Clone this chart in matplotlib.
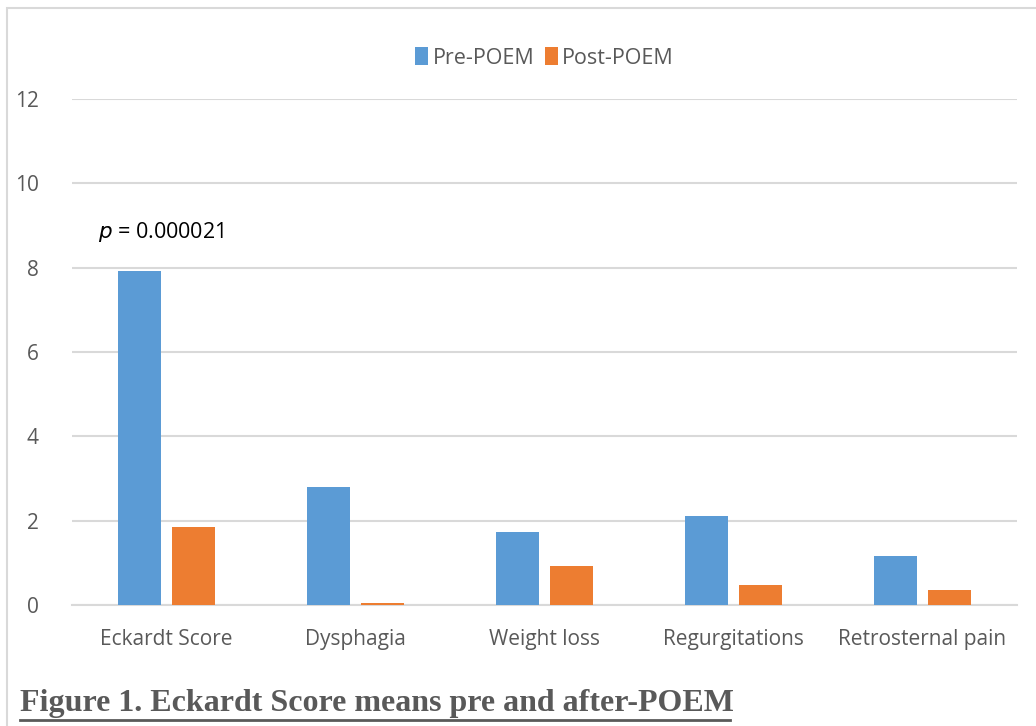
import numpy as np
import matplotlib
matplotlib.use('Agg')
from matplotlib import pyplot as plt
from matplotlib.patches import Rectangle

categories = ['Eckardt Score', 'Dysphagia', 'Weight loss', 'Regurgitations', 'Retrosternal pain']
pre_poem = [7.92, 2.80, 1.72, 2.12, 1.16]
post_poem = [1.86, 0.05, 0.93, 0.47, 0.36]
y_ticks = [0, 2, 4, 6, 8, 10, 12]

blue = '#5b9bd5'
orange = '#ed7d31'
grey_text = '#595959'

plt.rcParams['font.family'] = ['Open Sans', 'DejaVu Sans']

fig = plt.figure(figsize=(10.36, 7.26), dpi=100)
ax = fig.add_axes([0.0695, 0.1667, 0.9122, 0.6969])

x = np.arange(len(categories))
w = 0.227
gap = 0.06
ax.bar(x - (w + gap) / 2, pre_poem, w, color=blue, label='Pre-POEM', zorder=3)
ax.bar(x + (w + gap) / 2, post_poem, w, color=orange, label='Post-POEM', zorder=3)

ax.set_xlim(-0.5, len(categories) - 0.5)
ax.set_ylim(0, 12)
ax.set_yticks(y_ticks)
ax.set_xticks(x)
ax.set_xticklabels(categories)
ax.tick_params(axis='both', length=0, labelsize=15, colors=grey_text)
ax.tick_params(axis='y', pad=24)
ax.tick_params(axis='x', pad=17)
ax.yaxis.grid(True, color='#d9d9d9', linewidth=1.5, zorder=0)
for s in ['top', 'right', 'left']:
    ax.spines[s].set_visible(False)
ax.spines['bottom'].set_color('#d9d9d9')
ax.spines['bottom'].set_linewidth(1.5)

ax.text(-0.36, 8.85, r'$\it{p}$ = 0.000021', fontsize=15.5, color='black', va='center')

leg = ax.legend(loc='center', bbox_to_anchor=(0.5, 1.081), ncol=2, frameon=False,
                fontsize=15.5, handlelength=0.6, handleheight=0.9, handletextpad=0.2,
                columnspacing=0.5, labelcolor=grey_text)

# outer chart border
fig.patches.append(Rectangle((7 / 1036, -0.1), 1.2, 1 - 8 / 726 + 0.1, transform=fig.transFigure,
                             fill=False, edgecolor='#d9d9d9', linewidth=1.5))

fig.text(20 / 1036, 1 - 703 / 726, 'Figure 1. Eckardt Score means pre and after-POEM',
         fontsize=23, fontweight='bold', family='Liberation Serif', color=grey_text,
         va='center', ha='left')
fig.add_artist(plt.Line2D([20 / 1036, 730 / 1036], [1 - 720 / 726, 1 - 720 / 726],
                          color=grey_text, linewidth=2))

fig.savefig('out.png', dpi=100)
